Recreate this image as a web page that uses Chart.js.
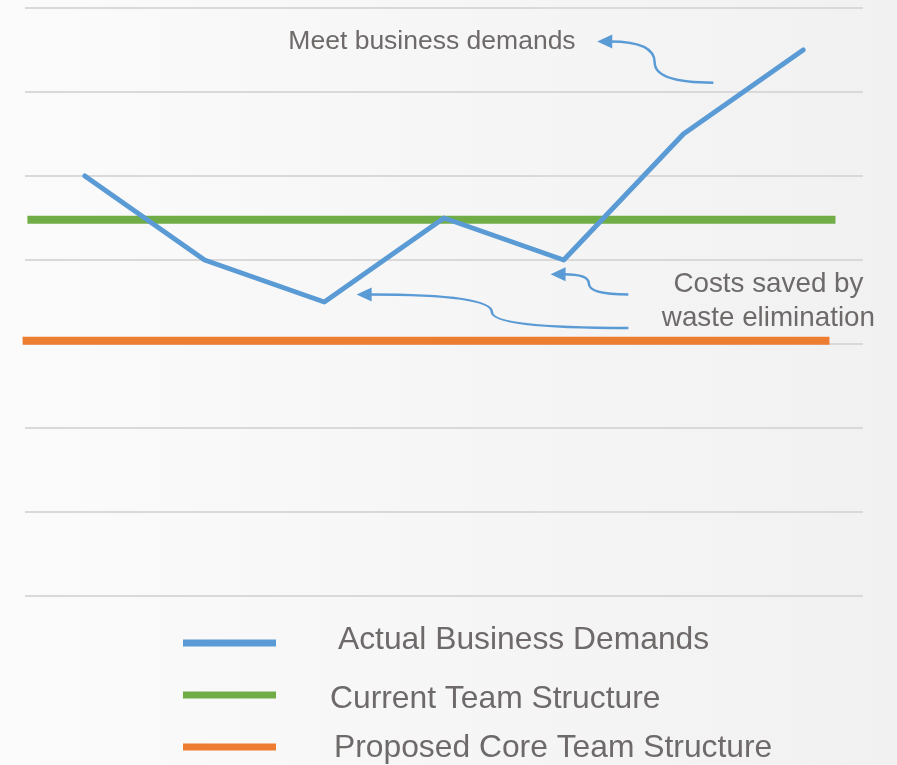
<!DOCTYPE html>
<html>
<head>
<meta charset="utf-8">
<script src="https://cdn.jsdelivr.net/npm/chart.js@4.4.1/dist/chart.umd.min.js"></script>
<style>
  html, body { margin: 0; padding: 0; background: #f6f6f6; }
  #wrap { width: 897px; height: 765px; }
</style>
</head>
<body>
<div id="wrap"><canvas id="myChart" width="897" height="765"></canvas></div>
<script>
// periods along the x axis (no labels shown)
let periods = [0, 1, 2, 3, 4, 5, 6];
let actualDemand = [5, 4, 3.5, 4.5, 4, 5.5, 6.5];

// flat levels, with start / end of each bar on the x axis
let currentLevel = 4.48;
let currentSpan = [-0.48, 6.27];
let proposedLevel = 3.04;
let proposedSpan = [-0.52, 6.22];

let seriesNames = ["Actual Business Demands", "Current Team Structure", "Proposed Core Team Structure"];
let seriesColors = ["#5b9bd5", "#70ad47", "#ed7d31"];

// callouts, in data units
let notes = [
    { text: "Meet business demands", x: 1.70, y: 6.60, align: "left", size: 26.5 },
    { text: "Costs saved by", x: 5.71, y: 3.71, align: "center", size: 27.8 },
    { text: "waste elimination", x: 5.71, y: 3.30, align: "center", size: 27.8 }
];
// each arrow: tail, bend, tip
let arrows = [
    [[5.25, 6.11], [4.76, 6.35], [4.28, 6.60]],
    [[4.54, 3.59], [4.21, 3.72], [3.89, 3.83]],
    [[4.54, 3.19], [3.40, 3.38], [2.27, 3.59]]
];

let textColor = "#6e6a6a";
let fontName = "'Liberation Sans', Arial, sans-serif";

function toPoints(xs, ys) {
    return xs.map(function(x, i) { return {x: x, y: ys[i]}; });
}

let backgroundPlugin = {
    id: "bg",
    beforeDraw: function(chart) {
        let c = chart.ctx;
        let g = c.createLinearGradient(0, 0, chart.width, 0);
        g.addColorStop(0, "#fbfbfb");
        g.addColorStop(1, "#f1f1f1");
        c.save();
        c.fillStyle = g;
        c.fillRect(0, 0, chart.width, chart.height);
        c.restore();
    }
};

let notesPlugin = {
    id: "notes",
    afterDatasetsDraw: function(chart) {
        let c = chart.ctx;
        let xs = chart.scales.x, ys = chart.scales.y;
        c.save();
        c.fillStyle = textColor;
        c.textBaseline = "middle";
        notes.forEach(function(n) {
            c.font = n.size + "px " + fontName;
            c.textAlign = n.align;
            c.fillText(n.text, xs.getPixelForValue(n.x), ys.getPixelForValue(n.y));
        });

        c.strokeStyle = "#5b9bd5";
        c.fillStyle = "#5b9bd5";
        c.lineWidth = 2.5;
        arrows.forEach(function(a) {
            let t = {x: xs.getPixelForValue(a[0][0]), y: ys.getPixelForValue(a[0][1])};
            let m = {x: xs.getPixelForValue(a[1][0]), y: ys.getPixelForValue(a[1][1])};
            let h = {x: xs.getPixelForValue(a[2][0]), y: ys.getPixelForValue(a[2][1])};
            let head = 15;
            c.beginPath();
            c.moveTo(t.x, t.y);
            c.quadraticCurveTo(m.x, t.y, m.x, m.y);
            c.quadraticCurveTo(m.x, h.y, h.x + head - 2, h.y);
            c.stroke();
            c.beginPath();
            c.moveTo(h.x, h.y);
            c.lineTo(h.x + head, h.y - 7);
            c.lineTo(h.x + head, h.y + 7);
            c.closePath();
            c.fill();
        });
        c.restore();
    }
};

let legendPlugin = {
    id: "sideLegend",
    afterDraw: function(chart) {
        let c = chart.ctx;
        let rows = [
            { lineY: 643, textX: 338, textY: 640 },
            { lineY: 695, textX: 330, textY: 699 },
            { lineY: 747, textX: 334, textY: 748 }
        ];
        c.save();
        c.font = "31.8px " + fontName;
        c.textBaseline = "middle";
        c.textAlign = "left";
        rows.forEach(function(r, i) {
            c.strokeStyle = seriesColors[i];
            c.lineWidth = 7;
            c.beginPath();
            c.moveTo(183, r.lineY);
            c.lineTo(276, r.lineY);
            c.stroke();
            c.fillStyle = textColor;
            c.fillText(seriesNames[i], r.textX, r.textY);
        });
        c.restore();
    }
};

let ctx = document.getElementById("myChart").getContext("2d");
let chart = new Chart(ctx, {
    type: "line",
    data: {
        datasets: [{
            label: seriesNames[0],
            data: toPoints(periods, actualDemand),
            borderColor: seriesColors[0],
            borderWidth: 5,
            borderCapStyle: "round",
            borderJoinStyle: "round",
            pointRadius: 0,
            tension: 0,
            clip: false
        }, {
            label: seriesNames[1],
            data: toPoints(currentSpan, [currentLevel, currentLevel]),
            borderColor: seriesColors[1],
            borderWidth: 8,
            pointRadius: 0,
            clip: false
        }, {
            label: seriesNames[2],
            data: toPoints(proposedSpan, [proposedLevel, proposedLevel]),
            borderColor: seriesColors[2],
            borderWidth: 8,
            pointRadius: 0,
            clip: false
        }]
    },
    options: {
        responsive: false,
        animation: false,
        layout: { padding: { left: 25, right: 34, top: 8, bottom: 169 } },
        plugins: {
            legend: { display: false },
            tooltip: { enabled: false }
        },
        scales: {
            x: {
                type: "linear",
                display: false,
                min: -0.5,
                max: 6.5
            },
            y: {
                min: 0,
                max: 7,
                ticks: { display: false, stepSize: 1 },
                border: { display: false },
                grid: { color: "#d9d9d9", lineWidth: 2, drawTicks: false }
            }
        }
    },
    plugins: [backgroundPlugin, notesPlugin, legendPlugin]
});
</script>
</body>
</html>
